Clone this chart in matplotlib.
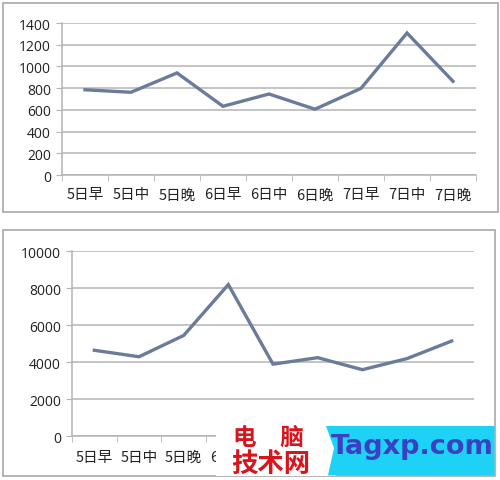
import matplotlib
matplotlib.use('Agg')
import matplotlib.pyplot as plt
from matplotlib.patches import Rectangle, Polygon
from matplotlib.transforms import Bbox

plt.rcParams['font.family'] = ['Noto Sans CJK SC', 'DejaVu Sans']

labels = ['5日早', '5日中', '5日晚', '6日早', '6日中', '6日晚', '7日早', '7日中', '7日晚']
top_vals = [785, 762, 940, 633, 746, 606, 798, 1308, 863]
bottom_vals = [4650, 4300, 5450, 8200, 3900, 4250, 3600, 4200, 5150]
top_yticks = [0, 200, 400, 600, 800, 1000, 1200, 1400]
bottom_yticks = [0, 2000, 4000, 6000, 8000, 10000]

W, H = 500, 481
LINE = '#6a7c9a'
GRID = '#b4b4b4'


def box(x0, y0, x1, y1):
    # pixel box (top-left origin) -> figure fraction rect
    return [x0 / W, 1 - y1 / H, (x1 - x0) / W, (y1 - y0) / H]


def style(ax, yticks, ylabsize, xlabsize, xpad):
    n = len(labels)
    ax.set_xlim(-0.5, n - 0.5)
    ax.set_ylim(yticks[0], yticks[-1])
    ax.set_yticks(yticks)
    ax.set_yticklabels([str(t) for t in yticks], fontsize=ylabsize, family='Open Sans', color='#222222')
    ax.set_xticks([i - 0.5 for i in range(n + 1)], minor=True)
    ax.set_xticks(range(n))
    ax.set_xticklabels(labels, fontsize=xlabsize, color='#222222')
    ax.tick_params(axis='x', which='major', length=0, pad=xpad)
    ax.tick_params(axis='x', which='minor', length=4, color=GRID, direction='out')
    ax.tick_params(axis='y', length=4, color=GRID, pad=4)
    ax.yaxis.grid(True, color=GRID, linewidth=1.1)
    ax.set_axisbelow(True)
    for s in ['top', 'right']:
        ax.spines[s].set_visible(False)
    for s in ['left', 'bottom']:
        ax.spines[s].set_color(GRID)
        ax.spines[s].set_linewidth(1.1)
    ax.set_facecolor('none')


fig = plt.figure(figsize=(W / 100, H / 100), dpi=100)

# panel borders
for (x0, y0, x1, y1) in [(3, 4, 498, 213), (3, 231, 495, 477)]:
    r = box(x0, y0, x1, y1)
    fig.patches.append(Rectangle((r[0], r[1]), r[2], r[3], transform=fig.transFigure,
                                 fill=False, edgecolor='#a8a8a8', linewidth=1.2))

ax1 = fig.add_axes(box(62, 24, 476, 176))
style(ax1, top_yticks, 10, 10.5, 9)
ax1.plot(range(len(labels)), top_vals, color=LINE, linewidth=2.4, solid_joinstyle='miter')

ax2 = fig.add_axes(box(72, 252.3, 474, 437.3))
style(ax2, bottom_yticks, 10, 10.5, 10)
ax2.plot(range(len(labels)), bottom_vals, color=LINE, linewidth=2.4, solid_joinstyle='miter')

# the watermark hides the lower labels past "6"
clip = Bbox.from_extents(0, 0, 216, H)
for t in ax2.get_xticklabels():
    t.set_clip_on(True)
    t.set_clip_box(clip)

# watermark
wm = fig.add_axes([0, 0, 1, 1], zorder=10)
wm.set_xlim(0, W)
wm.set_ylim(H, 0)
wm.axis('off')
wm.add_patch(Rectangle((216, 424), 120, 52.5, facecolor='white', edgecolor='none'))
wm.add_patch(Polygon([(326, 427), (494.5, 427), (494.5, 476.5), (328, 476.5), (334, 449)],
                     closed=True, facecolor='#1dd2f4', edgecolor='none'))
wm.text(268, 438, '电\u3000脑', color='#d8141c', fontsize=17, fontweight='bold',
        ha='center', va='center')
wm.text(271, 464, '技术网', color='#d8141c', fontsize=19, fontweight='bold',
        ha='center', va='center')
wm.text(412, 447, 'Tagxp.com', color='#3b3fc4', fontsize=19.5, fontweight='bold',
        family='DejaVu Sans', ha='center', va='center')

fig.savefig('out.png', dpi=100)
